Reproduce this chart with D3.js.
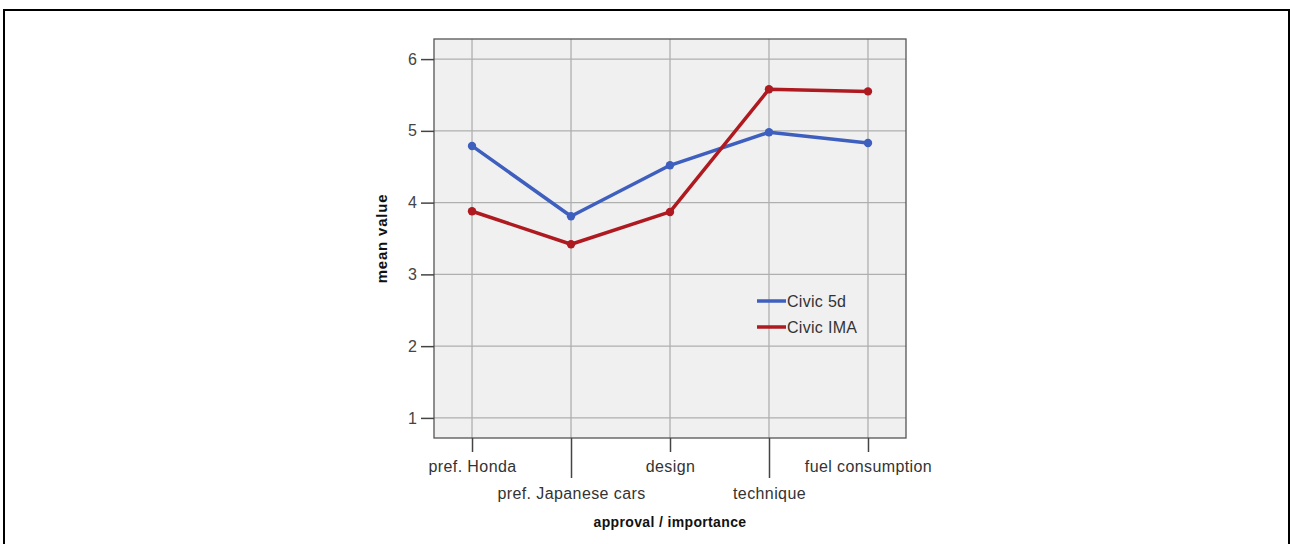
<!DOCTYPE html>
<html><head><meta charset="utf-8">
<script src="https://cdn.jsdelivr.net/npm/d3@7"></script>
<style>
html,body{margin:0;padding:0;background:#fff;}
svg{display:block;font-family:"Liberation Sans",Arial,sans-serif;}
svg text{font-family:"Liberation Sans",Arial,sans-serif;}
</style></head>
<body>
<svg id="c" width="1290" height="544"></svg>
<script>
const categories = ["pref. Honda","pref. Japanese cars","design","technique","fuel consumption"];
const civic5d = [4.79, 3.81, 4.52, 4.98, 4.83];
const civicIMA = [3.88, 3.42, 3.87, 5.58, 5.55];
const seriesNames = ["Civic 5d","Civic IMA"];
const seriesColors = ["#3E5FBE","#AE1A20"];
const yTicks = [1,2,3,4,5,6];

const svg = d3.select("#c");
svg.append("rect").attr("x",4).attr("y",10).attr("width",1285).attr("height",600)
  .attr("fill","none").attr("stroke","#000").attr("stroke-width",2);

const L=434, R=906, T=39, B=438;
const x = d3.scalePoint().domain(categories).range([L,R]).padding(0.384);
const y = d3.scaleLinear().domain([0.72,6.28]).range([B,T]);

const g = svg.append("g");
g.append("rect").attr("x",L).attr("y",T).attr("width",R-L).attr("height",B-T).attr("fill","#F0F0F0");

g.selectAll(".hg").data(yTicks).enter().append("line")
  .attr("x1",L).attr("x2",R).attr("y1",d=>y(d)).attr("y2",d=>y(d))
  .attr("stroke","#AFAFAF").attr("stroke-width",1.3);
g.selectAll(".vg").data(categories).enter().append("line")
  .attr("y1",T).attr("y2",B).attr("x1",d=>x(d)).attr("x2",d=>x(d))
  .attr("stroke","#AFAFAF").attr("stroke-width",1.3);

g.append("rect").attr("x",L).attr("y",T).attr("width",R-L).attr("height",B-T)
  .attr("fill","none").attr("stroke","#555").attr("stroke-width",1.3);

// y axis
const ya = svg.append("g").attr("transform",`translate(${L},0)`)
  .call(d3.axisLeft(y).tickValues(yTicks).tickSize(13).tickPadding(4).tickFormat(d3.format("d")));
ya.attr("font-size",null).attr("font-family",null);
ya.select(".domain").remove();
ya.selectAll(".tick line").attr("stroke","#444").attr("stroke-width",1.5);
ya.selectAll(".tick text").style("font-size","16px").style("fill","#444");

// x axis
const xa = svg.append("g").attr("transform",`translate(0,${B})`)
  .call(d3.axisBottom(x).tickSize(0).tickFormat(""));
xa.attr("font-size",null).attr("font-family",null);
xa.select(".domain").remove();
xa.selectAll(".tick text").remove();
xa.selectAll(".tick").each(function(d,i){
  const t = d3.select(this);
  const len = i%2===0 ? 14 : 40;
  t.append("line").attr("y1",0).attr("y2",len).attr("stroke","#444").attr("stroke-width",1.5);
  t.append("text").attr("y", i%2===0 ? 34 : 61).attr("text-anchor","middle")
    .style("fill","#333").style("font-size","16px").style("letter-spacing","0.4px").text(d);
});

svg.append("text").attr("x",(L+R)/2).attr("y",527).attr("text-anchor","middle")
  .style("font-weight","bold").style("font-size","14px").style("letter-spacing","0.35px")
  .style("fill","#111").text("approval / importance");
svg.append("text").attr("transform",`translate(387,${(T+B)/2}) rotate(-90)`)
  .attr("text-anchor","middle").style("font-weight","bold").style("font-size","15px")
  .style("letter-spacing","0.8px").style("fill","#111").text("mean value");

const data = [civic5d, civicIMA];
const line = d3.line().x((d,i)=>x(categories[i])).y(d=>y(d));
data.forEach((s,k)=>{
  g.append("path").datum(s).attr("d",line).attr("fill","none")
    .attr("stroke",seriesColors[k]).attr("stroke-width",3.5).attr("stroke-linejoin","round");
  g.selectAll(".p"+k).data(s).enter().append("circle")
    .attr("cx",(d,i)=>x(categories[i])).attr("cy",d=>y(d)).attr("r",4.2)
    .attr("fill",seriesColors[k]);
});

const lg = svg.append("g");
seriesNames.forEach((n,k)=>{
  const yy = 301 + k*26;
  lg.append("line").attr("x1",757).attr("x2",786).attr("y1",yy).attr("y2",yy)
    .attr("stroke",seriesColors[k]).attr("stroke-width",3.5);
  lg.append("text").attr("x",787).attr("y",yy+6).style("font-size","16px")
    .style("letter-spacing","0.3px").style("fill","#333").text(n);
});
</script>
</body></html>
